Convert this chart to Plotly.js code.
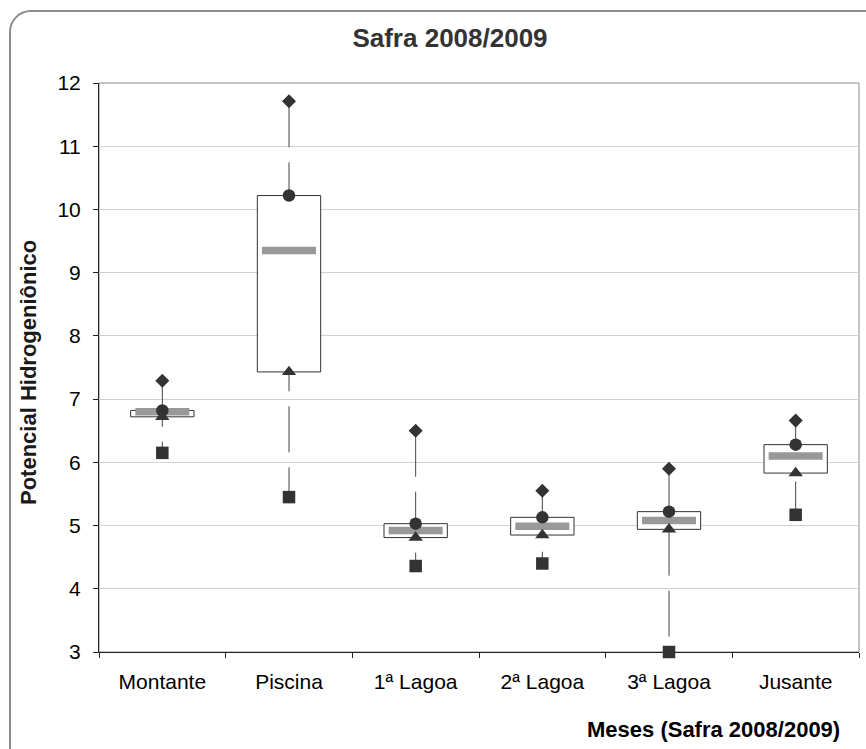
<!DOCTYPE html>
<html>
<head>
<meta charset="utf-8">
<script src="https://cdn.plot.ly/plotly-3.0.1.min.js"></script>
<style>
  html, body { margin: 0; padding: 0; background: #ffffff; overflow: hidden; }
  #frame { position: absolute; left: 9px; top: 10px; width: 900px; height: 800px;
           border: 2px solid #8c8c8c; border-radius: 22px; box-sizing: border-box; }
  #chart { position: absolute; left: 0; top: 0; width: 866px; height: 749px; }
</style>
</head>
<body>
<div id="frame"></div>
<div id="chart"></div>
<script>
const categories = ['Montante', 'Piscina', '1ª Lagoa', '2ª Lagoa', '3ª Lagoa', 'Jusante'];
const maxVals    = [7.29, 11.71, 6.50, 5.55, 5.90, 6.66];
const q3Vals     = [6.82, 10.22, 5.03, 5.13, 5.22, 6.28];
const medianVals = [6.80, 9.35, 4.92, 4.99, 5.08, 6.10];
const q1Vals     = [6.72, 7.43, 4.81, 4.85, 4.94, 5.83];
const minVals    = [6.15, 5.45, 4.36, 4.40, 3.00, 5.17];

const chartTitle = 'Safra 2008/2009';
const xTitle = 'Meses (Safra 2008/2009)';
const yTitle = 'Potencial Hidrogeniônico';

const dark = '#333333';
const traces = [];

// whiskers (max -> min), dashed, on base axes (below boxes)
categories.forEach((c, i) => {
  traces.push({
    type: 'scatter', mode: 'lines', x: [c, c], y: [maxVals[i], minVals[i]],
    xaxis: 'x', yaxis: 'y', line: { color: '#454545', width: 1, dash: '46px,15px' },
    hoverinfo: 'skip', showlegend: false
  });
});

// boxes on overlay axis
traces.push({
  type: 'bar', x: categories, base: q1Vals, y: q3Vals.map((v, i) => v - q1Vals[i]),
  width: 0.5, xaxis: 'x2', yaxis: 'y',
  marker: { color: '#ffffff', line: { color: dark, width: 1 } },
  showlegend: false, hoverinfo: 'skip'
});

function markerTrace(yv, symbol, size, extra) {
  return Object.assign({
    type: 'scatter', mode: 'markers', x: categories, y: yv, xaxis: 'x2', yaxis: 'y',
    cliponaxis: false, showlegend: false,
    marker: { symbol: symbol, size: size, color: dark, line: { width: 0 } }
  }, extra || {});
}

traces.push(markerTrace(medianVals, 'line-ew', 38.6, {
  marker: { symbol: 'line-ew', size: 38.6, color: '#999999', line: { color: '#999999', width: 7.5 } }
}));
traces.push(markerTrace(q3Vals, 'circle', 12.5));
traces.push(markerTrace(q1Vals, 'triangle-up', 12.5));
traces.push(markerTrace(maxVals, 'diamond', 10.8));
traces.push(markerTrace(minVals, 'square', 12.5));

const L = 98.5, R = 7, T = 82.5, B = 96.5;
const W = 866 - L - R, H = 749 - T - B;
const px2x = p => (p - L) / W;
const py2y = p => (749 - B - p) / H;

const layout = {
  width: 866, height: 749,
  margin: { l: L, r: R, t: T, b: B, pad: 0 },
  paper_bgcolor: 'rgba(0,0,0,0)', plot_bgcolor: '#ffffff',
  font: { family: 'Liberation Sans, Arial, sans-serif', color: '#000000' },
  showlegend: false,
  title: { text: chartTitle, font: { size: 26, color: '#333333', family: 'Liberation Sans, Arial, sans-serif', weight: 'bold' },
           xref: 'container', yref: 'container', x: 450 / 866, xanchor: 'center', y: 1 - 38 / 749, yanchor: 'middle' },
  xaxis: {
    type: 'category', categoryarray: categories, range: [-0.5, 5.5],
    tickson: 'boundaries', ticks: 'outside', ticklen: 5, tickcolor: '#222222', tickwidth: 1,
    showline: true, linecolor: '#222222', linewidth: 1, showgrid: false, zeroline: false,
    tickfont: { size: 21, color: '#000000' }, ticklabelstandoff: 11, layer: 'below traces', fixedrange: true
  },
  xaxis2: {
    type: 'category', categoryarray: categories, range: [-0.5, 5.5], overlaying: 'x',
    visible: false, showgrid: false, zeroline: false, fixedrange: true
  },
  yaxis: {
    range: [3, 12], tick0: 3, dtick: 1, ticks: 'outside', ticklen: 5, tickcolor: '#222222',
    showline: true, linecolor: '#222222', linewidth: 1, gridcolor: '#d2d2d2', gridwidth: 1,
    zeroline: false, tickfont: { size: 21, color: '#000000' }, ticklabelstandoff: 8, fixedrange: true
  },
  shapes: [{
    type: 'rect', xref: 'paper', yref: 'paper', x0: 0, x1: 1, y0: 0, y1: 1,
    line: { color: '#8a8a8a', width: 1 }, layer: 'below'
  }],
  annotations: [
    { text: '<b>' + xTitle + '</b>', xref: 'paper', yref: 'paper', x: px2x(842), y: py2y(730),
      xanchor: 'right', yanchor: 'middle', showarrow: false, font: { size: 22, color: '#000000' } },
    { text: '<b>' + yTitle + '</b>', xref: 'paper', yref: 'paper', x: px2x(28), y: py2y(372.5),
      xanchor: 'center', yanchor: 'middle', textangle: -90, showarrow: false, font: { size: 22, color: '#1a1a1a' } }
  ]
};

Plotly.newPlot('chart', traces, layout, { staticPlot: true, displayModeBar: false });
</script>
</body>
</html>
